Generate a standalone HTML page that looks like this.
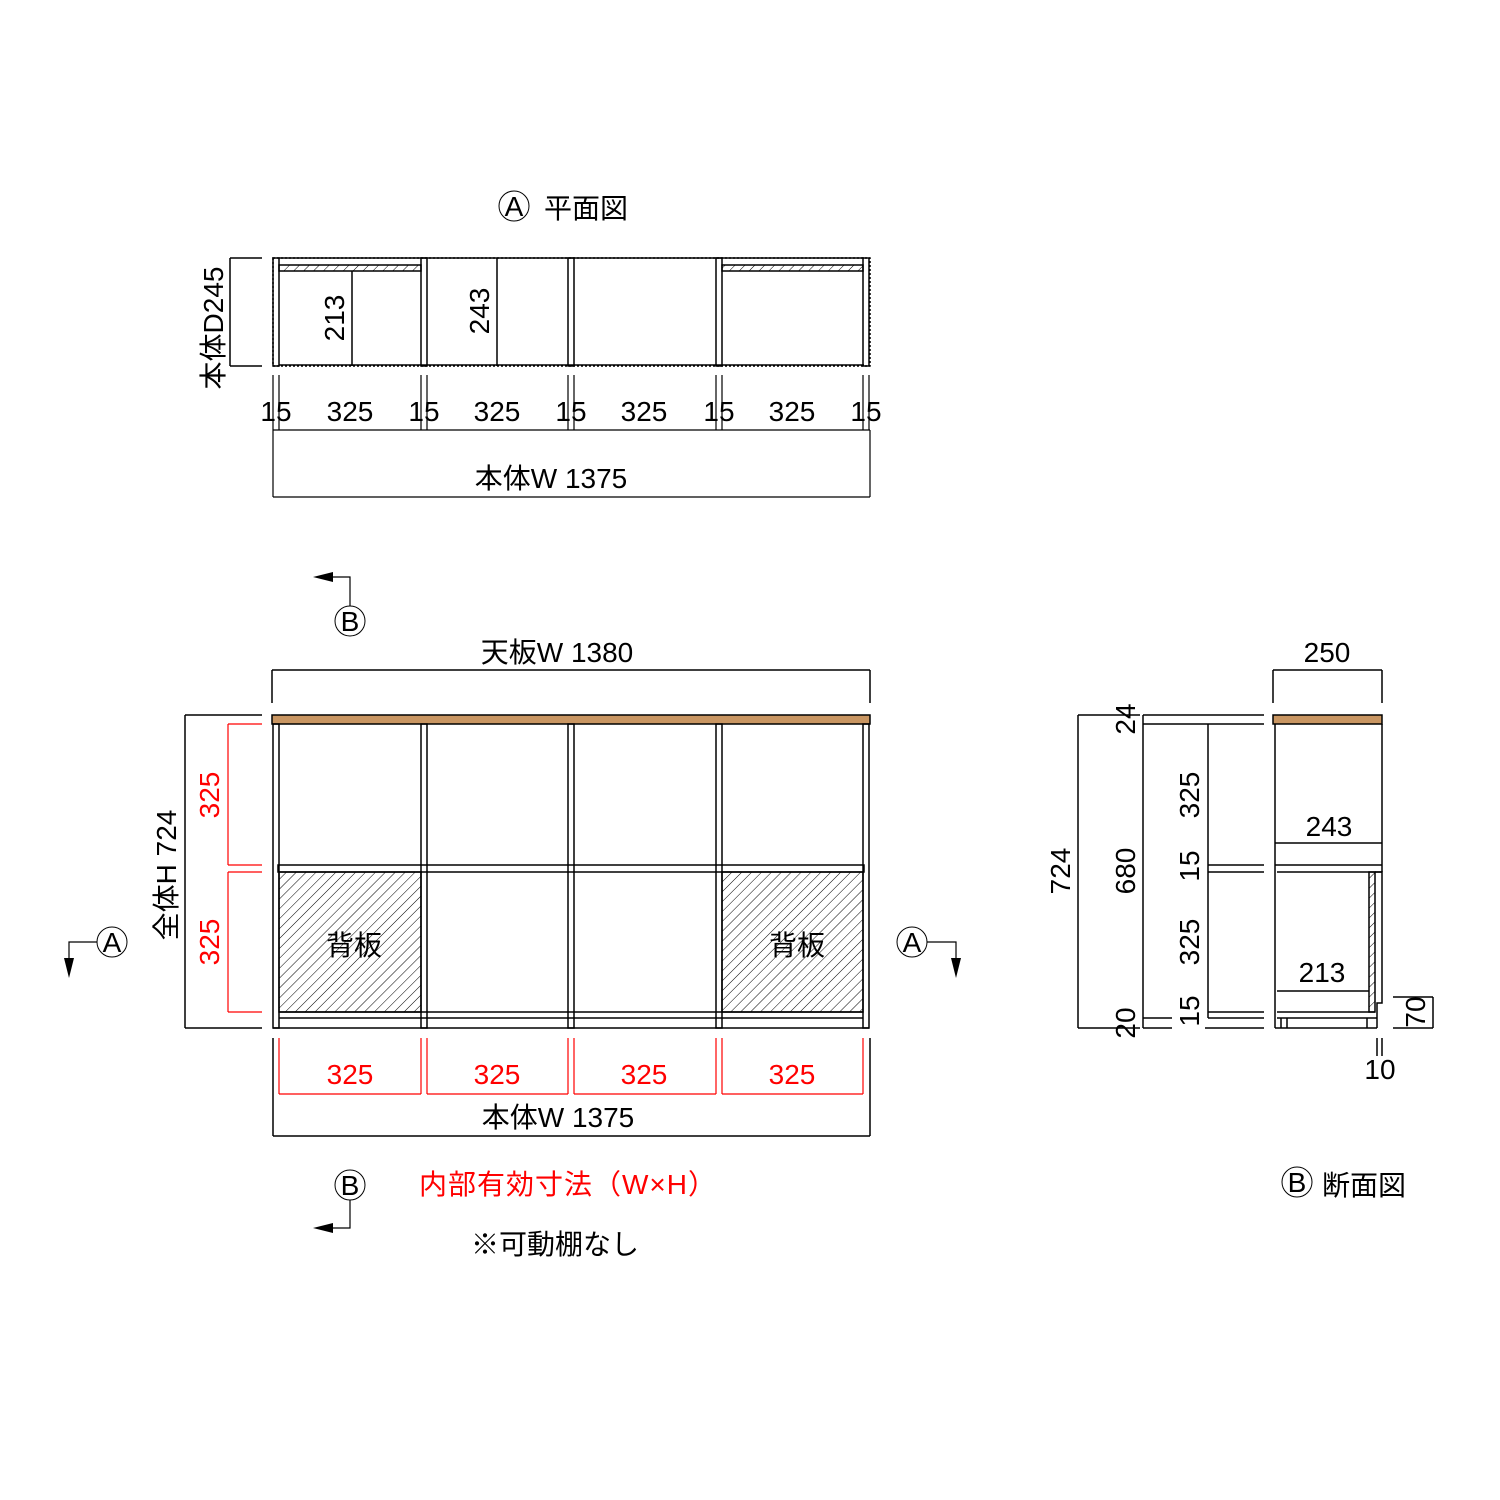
<!DOCTYPE html>
<html><head><meta charset="utf-8"><style>
html,body{margin:0;padding:0;background:#fff}
svg{display:block}
text{font-family:"Liberation Sans","Noto Sans CJK JP",sans-serif;}
</style></head><body>
<svg width="1500" height="1500" viewBox="0 0 1500 1500" xmlns="http://www.w3.org/2000/svg">
<defs>
<pattern id="h" patternUnits="userSpaceOnUse" width="7" height="7" patternTransform="rotate(45)">
<line x1="0" y1="0" x2="0" y2="7" stroke="#000" stroke-width="1"/></pattern>
</defs>
<g stroke="#000" stroke-width="1.5" fill="none">
<!-- PLAN VIEW -->
<rect x="273" y="258" width="597" height="108" stroke-dasharray="2 2"/>
<line x1="279" y1="258" x2="864" y2="258"/><line x1="279" y1="365" x2="864" y2="365"/>
<rect x="273" y="258" width="6" height="108"/><rect x="421" y="258" width="6" height="108"/>
<rect x="568" y="258" width="6" height="108"/><rect x="716" y="258" width="6" height="108"/>
<rect x="863" y="258" width="6" height="108"/>
<rect x="279" y="265" width="142" height="6" fill="url(#h)"/>
<rect x="722" y="265" width="141" height="6" fill="url(#h)"/>
<line x1="352" y1="271" x2="352" y2="366"/><line x1="497" y1="258" x2="497" y2="366"/>
<line x1="230" y1="258" x2="262" y2="258"/><line x1="230" y1="366" x2="262" y2="366"/><line x1="230" y1="258" x2="230" y2="366"/>
<g stroke-width="1.2">
<line x1="273" y1="375" x2="273" y2="430"/><line x1="279" y1="375" x2="279" y2="430"/>
<line x1="421" y1="375" x2="421" y2="430"/><line x1="427" y1="375" x2="427" y2="430"/>
<line x1="568" y1="375" x2="568" y2="430"/><line x1="574" y1="375" x2="574" y2="430"/>
<line x1="716" y1="375" x2="716" y2="430"/><line x1="722" y1="375" x2="722" y2="430"/>
<line x1="863" y1="375" x2="863" y2="430"/><line x1="869" y1="375" x2="869" y2="430"/>
<line x1="273" y1="430" x2="870" y2="430"/>
<line x1="273" y1="430" x2="273" y2="497"/><line x1="870" y1="430" x2="870" y2="497"/>
<line x1="273" y1="497" x2="870" y2="497"/>
</g>
<circle cx="514" cy="206" r="15" stroke-width="1"/>

<!-- FRONT VIEW -->
<line x1="272" y1="670" x2="870" y2="670"/><line x1="272" y1="670" x2="272" y2="703"/><line x1="870" y1="670" x2="870" y2="703"/>
<rect x="272" y="715" width="598" height="9" fill="#c99662"/>
<rect x="279" y="872" width="142" height="140" fill="url(#h)"/>
<rect x="722" y="872" width="141" height="140" fill="url(#h)"/>
<rect x="273" y="724" width="6" height="304"/><rect x="421" y="724" width="6" height="304"/>
<rect x="568" y="724" width="6" height="304"/><rect x="716" y="724" width="6" height="304"/>
<rect x="863" y="724" width="6" height="304"/>
<rect x="278" y="865" width="586" height="7"/>
<line x1="279" y1="1012" x2="863" y2="1012"/><line x1="279" y1="1018" x2="863" y2="1018"/>
<line x1="273" y1="1028" x2="869" y2="1028"/>
<line x1="185" y1="715" x2="262" y2="715"/><line x1="185" y1="1028" x2="262" y2="1028"/><line x1="185" y1="715" x2="185" y2="1028"/>
<g stroke="#f00" stroke-width="1.2">
<line x1="228" y1="724" x2="262" y2="724"/><line x1="228" y1="865" x2="262" y2="865"/><line x1="228" y1="724" x2="228" y2="865"/>
<line x1="228" y1="872" x2="262" y2="872"/><line x1="228" y1="1012" x2="262" y2="1012"/><line x1="228" y1="872" x2="228" y2="1012"/>
<line x1="279" y1="1038" x2="279" y2="1094"/><line x1="421" y1="1038" x2="421" y2="1094"/><line x1="279" y1="1094" x2="421" y2="1094"/>
<line x1="427" y1="1038" x2="427" y2="1094"/><line x1="568" y1="1038" x2="568" y2="1094"/><line x1="427" y1="1094" x2="568" y2="1094"/>
<line x1="574" y1="1038" x2="574" y2="1094"/><line x1="716" y1="1038" x2="716" y2="1094"/><line x1="574" y1="1094" x2="716" y2="1094"/>
<line x1="722" y1="1038" x2="722" y2="1094"/><line x1="863" y1="1038" x2="863" y2="1094"/><line x1="722" y1="1094" x2="863" y2="1094"/>
</g>
<line x1="273" y1="1038" x2="273" y2="1136"/><line x1="870" y1="1038" x2="870" y2="1136"/><line x1="273" y1="1136" x2="870" y2="1136"/>
<!-- section markers -->
<circle cx="350" cy="621" r="15" stroke-width="1"/><polyline points="330,577 350,577 350,606" stroke-width="1.2"/>
<circle cx="350" cy="1185" r="15" stroke-width="1"/><polyline points="330,1228 350,1228 350,1200" stroke-width="1.2"/>
<circle cx="112" cy="942" r="15" stroke-width="1"/><polyline points="97,942 69,942 69,960" stroke-width="1.2"/>
<circle cx="912" cy="942" r="15" stroke-width="1"/><polyline points="927,942 956,942 956,960" stroke-width="1.2"/>
<circle cx="1297" cy="1182" r="15" stroke-width="1"/>

<!-- SECTION VIEW -->
<line x1="1273" y1="670" x2="1382" y2="670"/><line x1="1273" y1="670" x2="1273" y2="703"/><line x1="1382" y1="670" x2="1382" y2="703"/>
<rect x="1273" y="715" width="109" height="9" fill="#c99662"/>
<line x1="1275" y1="724" x2="1275" y2="1028"/><line x1="1382" y1="724" x2="1382" y2="872"/>
<line x1="1275" y1="843" x2="1382" y2="843"/><line x1="1275" y1="865" x2="1382" y2="865"/><line x1="1277" y1="872" x2="1382" y2="872"/>
<rect x="1369" y="872" width="6" height="140" fill="url(#h)"/>
<polyline points="1375,872 1382,872 1382,1003 1377,1003 1377,1028"/>
<line x1="1277" y1="991" x2="1369" y2="991"/>
<line x1="1277" y1="1012" x2="1375" y2="1012"/><line x1="1277" y1="1018" x2="1377" y2="1018"/>
<line x1="1275" y1="1028" x2="1377" y2="1028"/>
<line x1="1281" y1="1018" x2="1281" y2="1028"/><line x1="1287" y1="1018" x2="1287" y2="1028"/><line x1="1367" y1="1018" x2="1367" y2="1028"/>
<line x1="1078" y1="715" x2="1140" y2="715"/><line x1="1078" y1="1028" x2="1140" y2="1028"/><line x1="1078" y1="715" x2="1078" y2="1028"/>
<line x1="1143" y1="715" x2="1264" y2="715"/><line x1="1143" y1="724" x2="1264" y2="724"/>
<line x1="1143" y1="715" x2="1143" y2="1028"/>
<line x1="1143" y1="1018" x2="1172" y2="1018"/><line x1="1143" y1="1028" x2="1172" y2="1028"/>
<line x1="1208" y1="724" x2="1208" y2="1018"/>
<line x1="1208" y1="865" x2="1264" y2="865"/><line x1="1208" y1="872" x2="1264" y2="872"/>
<line x1="1208" y1="1012" x2="1264" y2="1012"/><line x1="1208" y1="1018" x2="1264" y2="1018"/><line x1="1205" y1="1028" x2="1264" y2="1028"/>
<line x1="1393" y1="997" x2="1433" y2="997"/><line x1="1393" y1="1028" x2="1433" y2="1028"/><line x1="1433" y1="997" x2="1433" y2="1028"/>
<line x1="1377" y1="1038" x2="1377" y2="1056"/><line x1="1382" y1="1038" x2="1382" y2="1056"/>
</g>
<g fill="#000">
<polygon points="313,577 333,572 333,582"/><polygon points="313,1228 333,1223 333,1233"/>
<polygon points="69,978 64,958 74,958"/><polygon points="956,978 951,958 961,958"/>
</g>
<g font-size="28" fill="#000" text-anchor="middle">
<text x="514" y="216">A</text><text x="586" y="218">平面図</text>
<text x="276" y="421">15</text><text x="350" y="421">325</text><text x="424" y="421">15</text><text x="497" y="421">325</text>
<text x="571" y="421">15</text><text x="644" y="421">325</text><text x="719" y="421">15</text><text x="792" y="421">325</text><text x="866" y="421">15</text>
<text x="551" y="488">本体W 1375</text>
<text transform="translate(223,328) rotate(-90)">本体D245</text>
<text transform="translate(344,318) rotate(-90)">213</text>
<text transform="translate(489,311) rotate(-90)">243</text>
<text x="350" y="631">B</text><text x="350" y="1195">B</text>
<text x="112" y="952">A</text><text x="912" y="952">A</text>
<text x="557" y="662">天板W 1380</text>
<text x="354" y="955">背板</text><text x="797" y="955">背板</text>
<text transform="translate(176,875) rotate(-90)">全体H 724</text>
<text x="558" y="1127">本体W 1375</text>
<text x="555" y="1254">※可動棚なし</text>
<text x="1297" y="1192">B</text><text x="1364" y="1195">断面図</text>
<text x="1327" y="662">250</text>
<text x="1329" y="836">243</text><text x="1322" y="982">213</text>
<text x="1380" y="1079">10</text>
<text transform="translate(1070,871) rotate(-90)">724</text>
<text transform="translate(1135,871) rotate(-90)">680</text>
<text transform="translate(1135,719) rotate(-90)">24</text>
<text transform="translate(1135,1023) rotate(-90)">20</text>
<text transform="translate(1199,795) rotate(-90)">325</text>
<text transform="translate(1199,866) rotate(-90)">15</text>
<text transform="translate(1199,942) rotate(-90)">325</text>
<text transform="translate(1199,1011) rotate(-90)">15</text>
<text transform="translate(1425,1012) rotate(-90)">70</text>
</g>
<g font-size="28" fill="#f00" text-anchor="middle">
<text transform="translate(219,795) rotate(-90)">325</text>
<text transform="translate(219,942) rotate(-90)">325</text>
<text x="350" y="1084">325</text><text x="497" y="1084">325</text><text x="644" y="1084">325</text><text x="792" y="1084">325</text>
<text x="568" y="1194" letter-spacing="1">内部有効寸法（W×H）</text>
</g>
</svg>
</body></html>
